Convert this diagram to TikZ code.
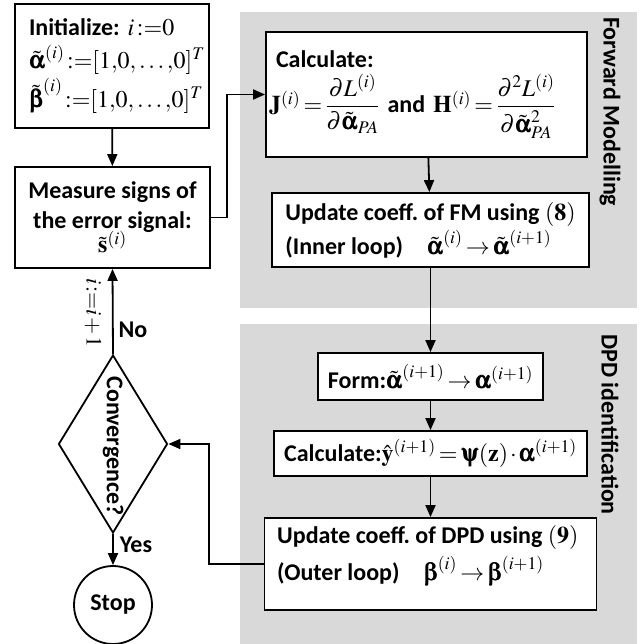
\documentclass[tikz,border=0pt]{standalone}
\usepackage{amsmath}
\usepackage{mathptmx}
\usepackage[Symbol]{upgreek}
\usepackage{bm}
\usepackage[no-math]{fontspec}
\setmainfont{Carlito}
\usetikzlibrary{arrows.meta,shapes.geometric}
\definecolor{panelgrey}{RGB}{217,217,217}
\newcommand{\ba}{\bm{\upalpha}}
\newcommand{\bb}{\bm{\upbeta}}
\newcommand{\ta}{\tilde{\ba}}
\newcommand{\tb}{\tilde{\bb}}
\newcommand{\asg}{\,{:=}}

\begin{document}
\frenchspacing
\thickmuskip=2.5mu plus 1mu
\medmuskip=1.5mu plus 1mu
\begin{tikzpicture}[x=1pt,y=-1pt,
  every node/.style={font=\fontsize{24}{30}\selectfont\bfseries},
  box/.style={draw, line width=1.8pt, fill=white, inner sep=0pt},
  link/.style={line width=1.8pt},
  arr/.style={link, -{Triangle[length=12pt,width=10pt]}},
  panel/.style={fill=panelgrey, draw=none},
  side/.style={rotate=-90, anchor=west, inner sep=0pt},
  tag/.style={inner sep=0pt}]
\useasboundingbox (0,0) rectangle (644,644);

% shaded panels
\fill[panel] (240,12) rectangle (637,308);
\fill[panel] (240,324) rectangle (637,644);
\node[side] (fmlabel) at (610,17) {Forward Modelling};
\node[side] (dpdlabel) at (610,334) {DPD identification};

% left column
\node[box, minimum width=194, minimum height=124, text width=166, align=left]
  (init) at (112,66)
  {Initialize: $i\asg 0$\\[3pt]
   $\ta^{(i)}\asg[1{,}0{,}\ldots{,}0]^T$\\[3pt]
   $\tb^{(i)}\asg[1{,}0{,}\ldots{,}0]^T$};
\node[box, minimum width=195, minimum height=101, align=center]
  (measure) at (112.5,217.5)
  {Measure signs of\\ the error signal:\\[-6pt] $\tilde{\mathbf{s}}^{(i)}$};
\node[diamond, draw, line width=1.8pt, minimum width=109, minimum height=178, inner sep=0pt]
  (conv) at (113,444) {};
\node[rotate=-90, inner sep=0pt] (convtext) at (113,446) {Convergence?};
\node[circle, draw, line width=1.8pt, minimum size=78, inner sep=0pt]
  (stop) at (113,605) {Stop};

% right column
\node[box, minimum width=321, minimum height=125, text width=315, align=left]
  (calc) at (426.5,94.5)
  {\hspace{7pt}Calculate:\\[6pt]
   $\mathbf{J}^{(i)}=\dfrac{\partial L^{(i)}}{\partial\ta_{PA}}$\hspace{8pt}and\hspace{8pt}%
   $\mathbf{H}^{(i)}=\dfrac{\partial^2 L^{(i)}}{\partial\ta^2_{PA}}$};
\node[box, minimum width=317, minimum height=74, align=left]
  (updfm) at (430.5,230)
  {Update coeff. of FM using $\mathbf{(8)}$\\[4pt]
   (Inner loop)\quad $\ta^{(i)}\rightarrow\ta^{(i+1)}$};
\node[box, minimum width=225, minimum height=47, align=center]
  (form) at (430.5,376.5)
  {Form:$\ta^{(i+1)}\rightarrow\ba^{(i+1)}$};
\node[box, minimum width=313, minimum height=45, align=center]
  (calcy) at (430.5,453.5)
  {Calculate:$\hat{\mathbf{y}}^{(i+1)}=\bm{\uppsi}(\mathbf{z})\cdot\ba^{(i+1)}$};
\node[box, minimum width=332, minimum height=92]
  (upddpd) at (430.5,564) {};
\node[anchor=north west, align=left, inner sep=0pt]
  (upddpdtext) at (277,525)
  {Update coeff. of DPD using $\mathbf{(9)}$\\[6pt]
   (Outer loop)\quad $\bb^{(i)}\rightarrow\bb^{(i+1)}$};

% bend points of the loop connectors
\coordinate (jogA) at (227,150);
\coordinate (jogB) at (209,500);

% connectors
\draw[arr] (init) -- (measure);
\draw[arr] (measure.east) -| (jogA) |- (calc.west);
\draw[arr] (calc) -- (updfm);
\draw[arr] (updfm) -- (form);
\draw[arr] (form) -- (calcy);
\draw[arr] (calcy) -- (upddpd);
\draw[arr] (upddpd.west) -| (jogB) |- (conv.east);
\draw[arr] (conv.north) -- (measure.south);
\draw[arr] (conv.south) -- (stop.north);

% branch labels
\node[tag] (nolabel) at (133,330) {No};
\node[tag] (yeslabel) at (136,545) {Yes};
\node[tag, rotate=-90, font=\fontsize{22}{26}\selectfont] (incr) at (93,313) {$i\asg i+1$};
\end{tikzpicture}
\end{document}
